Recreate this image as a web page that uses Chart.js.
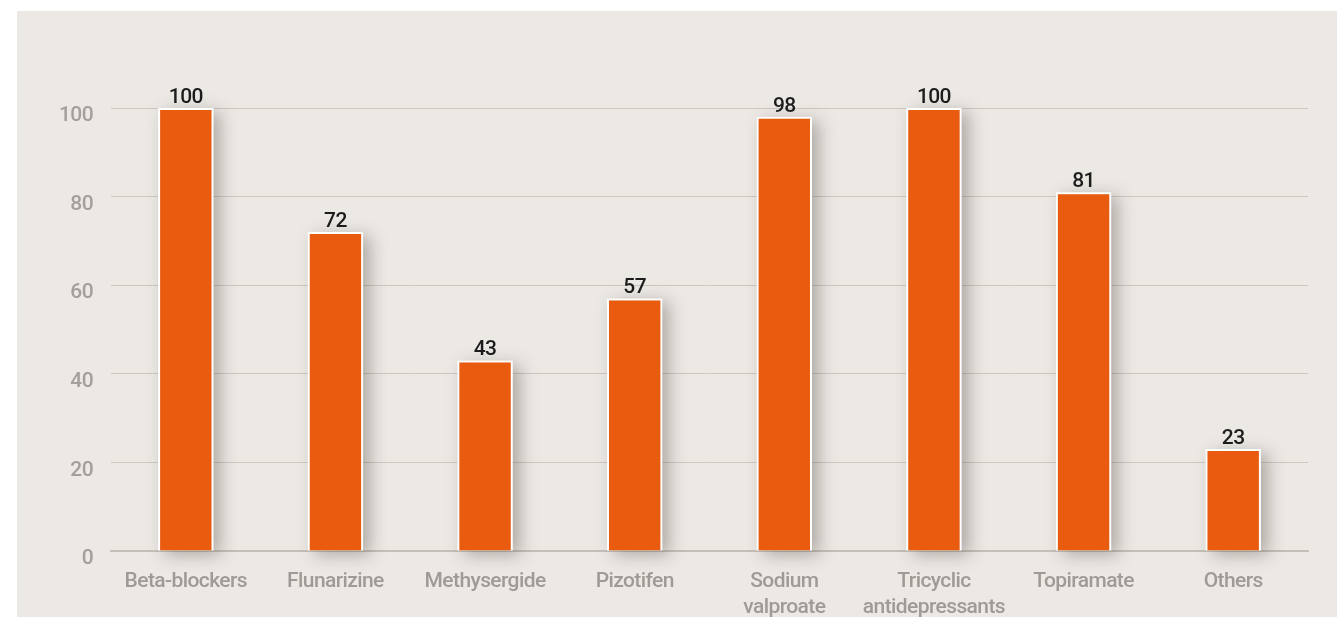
<!DOCTYPE html>
<html lang="en">
<head>
    <meta charset="UTF-8">
    <title>Preventive treatments</title>
    <script src="https://cdn.jsdelivr.net/npm/chart.js"></script>
    <style>
        body {
            margin: 0;
            background-color: #ffffff;
        }
        .panel {
            position: absolute;
            left: 17px;
            top: 11px;
            width: 1320px;
            height: 606px;
            background-color: #ECE9E5;
        }
    </style>
</head>
<body>
    <div class="panel">
        <canvas id="barChart"></canvas>
    </div>
    <script>
        // 数据
        const categories = ['Beta-blockers', 'Flunarizine', 'Methysergide', 'Pizotifen',
            ['Sodium', 'valproate'], ['Tricyclic', 'antidepressants'], 'Topiramate', 'Others'];
        const values = [100, 72, 43, 57, 98, 100, 81, 23];
        const yTicks = [0, 20, 40, 60, 80, 100];

        const fontFamily = 'Roboto, "DejaVu Sans Condensed", Arial, sans-serif';

        // 柱子阴影
        const shadowPlugin = {
            id: 'barShadow',
            beforeDraw(chart) {
                chart.ctx.letterSpacing = '-0.6px';
            },
            beforeDatasetsDraw(chart) {
                const ctx = chart.ctx;
                const meta = chart.getDatasetMeta(0);
                ctx.save();
                ctx.shadowColor = 'rgba(60, 50, 40, 0.35)';
                ctx.shadowBlur = 16;
                ctx.shadowOffsetX = 7;
                ctx.shadowOffsetY = 4;
                ctx.fillStyle = '#ECE9E5';
                meta.data.forEach(bar => {
                    const w = bar.width;
                    ctx.fillRect(bar.x - w / 2, bar.y, w, bar.base - bar.y);
                });
                ctx.restore();
            }
        };

        // 数值标签
        const valueLabels = {
            id: 'valueLabels',
            afterDatasetsDraw(chart) {
                const ctx = chart.ctx;
                const meta = chart.getDatasetMeta(0);
                ctx.save();
                ctx.font = '500 21px ' + fontFamily;
                ctx.fillStyle = '#1c1c1c';
                ctx.textAlign = 'center';
                ctx.textBaseline = 'bottom';
                meta.data.forEach((bar, i) => {
                    ctx.fillText(values[i], bar.x, bar.y);
                });
                ctx.restore();
            }
        };

        new Chart(document.getElementById('barChart'), {
            type: 'bar',
            data: {
                labels: categories,
                datasets: [{
                    data: values,
                    backgroundColor: '#E95B0F',
                    borderColor: '#ffffff',
                    borderWidth: 2,
                    categoryPercentage: 1,
                    barPercentage: 0.37
                }]
            },
            options: {
                responsive: true,
                maintainAspectRatio: false,
                animation: false,
                layout: {
                    padding: { top: 97, right: 29, left: 0, bottom: 0 }
                },
                plugins: {
                    legend: { display: false },
                    tooltip: { enabled: false }
                },
                scales: {
                    x: {
                        grid: { display: false, drawTicks: false },
                        border: { color: '#C4BFB8', width: 2 },
                        ticks: {
                            color: '#9E9A95',
                            font: { family: fontFamily, size: 21, weight: '500', lineHeight: 1.22 },
                            padding: 18,
                            maxRotation: 0,
                            autoSkip: false
                        },
                        afterFit(scale) { scale.height = 66; }
                    },
                    y: {
                        min: 0,
                        max: 100,
                        afterBuildTicks(scale) {
                            scale.ticks = yTicks.map(v => ({ value: v }));
                        },
                        grid: { color: '#CDC8C1', lineWidth: 1, drawTicks: false },
                        border: { display: false },
                        ticks: {
                            color: '#A39F9A',
                            font: { family: fontFamily, size: 21, weight: '500' },
                            padding: 18,
                            labelOffset: 8
                        },
                        afterFit(scale) { scale.width = 94; }
                    }
                }
            },
            plugins: [shadowPlugin, valueLabels]
        });
    </script>
</body>
</html>
